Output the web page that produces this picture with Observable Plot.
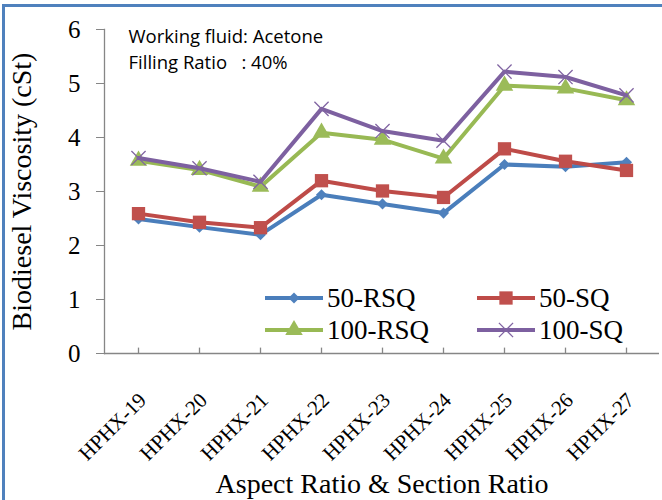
<!DOCTYPE html>
<html><head><meta charset="utf-8">
<script src="https://cdn.jsdelivr.net/npm/d3@7"></script>
<script src="https://cdn.jsdelivr.net/npm/@observablehq/plot@0.6"></script>
<style>
body{margin:0;background:#fff}
#wrap{position:relative;width:662px;height:500px;overflow:hidden;background:#fff}
.bl{position:absolute;background:#4F81BD}
.leg{position:absolute;display:flex;align-items:center;font-family:"Liberation Serif",serif;font-size:27px;line-height:1;white-space:nowrap;color:#000}
.leg svg{display:block;margin-right:4px}
#wrap > svg.main{position:absolute;left:0;top:0;white-space:pre}
#wrap > svg.main g.serif text{font-family:"Liberation Serif",serif}
#wrap > svg.main g.sans text{font-family:"Open Sans",sans-serif}
</style></head><body><div id="wrap"></div>
<script>
// ---- data ----
const categories = ["HPHX-19","HPHX-20","HPHX-21","HPHX-22","HPHX-23","HPHX-24","HPHX-25","HPHX-26","HPHX-27"];
const seriesNames = ["50-RSQ","50-SQ","100-RSQ","100-SQ"];
const rsq50  = [2.49, 2.34, 2.20, 2.94, 2.77, 2.60, 3.50, 3.46, 3.54];
const sq50   = [2.59, 2.43, 2.33, 3.20, 3.01, 2.89, 3.79, 3.56, 3.39];
const rsq100 = [3.57, 3.40, 3.09, 4.09, 3.96, 3.61, 4.96, 4.91, 4.69];
const sq100  = [3.62, 3.43, 3.18, 4.53, 4.12, 3.94, 5.22, 5.12, 4.78];
const yTicks = [0, 1, 2, 3, 4, 5, 6];
const annotation = ["Working fluid: Acetone", "Filling Ratio   : 40%"];
const xTitle = "Aspect Ratio & Section Ratio";
const yTitle = "Biodiesel Viscosity (cSt)";

// ---- styles ----
const lineColors = ["#4A7EBB", "#BE4B48", "#98B954", "#7D60A0"];
const markColors = ["#4F81BD", "#C0504D", "#9BBB59", "#8064A2"];
const symbols = ["diamond2", "square", "triangle", "times"];
const radii = [5, 7.5, 6.5, 6.5];

const seriesValues = [rsq50, sq50, rsq100, sq100];
const table = seriesValues.flatMap((vals, s) => vals.map((v, i) => ({series: seriesNames[s], cat: categories[i], value: v})));

const axisGray = "#868686";
const serif = "Liberation Serif";

const seriesMarks = seriesNames.flatMap((name, s) => {
  const d = table.filter(r => r.series === name);
  const dotOpts = symbols[s] === "times"
    ? {x: "cat", y: "value", symbol: "times", stroke: markColors[s], strokeWidth: 1.3, r: radii[s]}
    : {x: "cat", y: "value", symbol: symbols[s], fill: markColors[s], r: radii[s]};
  return [
    Plot.line(d, {x: "cat", y: "value", stroke: lineColors[s], strokeWidth: 4}),
    Plot.dot(d, dotOpts)
  ];
});

const chart = Plot.plot({
  width: 662,
  height: 500,
  marginLeft: 104,
  marginRight: 3,
  marginTop: 29,
  marginBottom: 147,
  style: {fontFamily: serif, background: "transparent", color: "#000"},
  x: {type: "point", domain: categories, padding: 0.5, axis: null},
  y: {domain: [0, 6], axis: null},
  marks: [
    Plot.ruleY([0], {stroke: axisGray, strokeWidth: 1.3}),
    Plot.frame({anchor: "left", stroke: axisGray, strokeWidth: 1.3}),
    Plot.ruleX(categories, {x: d => d, y1: 0, y2: 0.1, stroke: axisGray, strokeWidth: 1.3}),
    Plot.axisY(yTicks, {tickSize: 8, stroke: axisGray, label: null, tickFormat: () => ""}),
    Plot.text(yTicks, {y: d => d, text: d => String(d), frameAnchor: "left", textAnchor: "end", dx: -24, fontSize: 25, fontFamily: serif, className: "serif"}),
    Plot.text(categories, {x: d => d, frameAnchor: "bottom", rotate: -45, textAnchor: "end", dx: 9, dy: 48, fontSize: 21, fontFamily: serif, className: "serif"}),
    Plot.text([yTitle], {frameAnchor: "left", rotate: -90, textAnchor: "middle", dx: -82, fontSize: 28, fontFamily: serif, className: "serif"}),
    Plot.text([xTitle], {frameAnchor: "bottom", textAnchor: "middle", dy: 139, fontSize: 28, fontFamily: serif, className: "serif"}),
    Plot.text([annotation[0]], {frameAnchor: "top-left", dx: 24, dy: 0, textAnchor: "start", fontSize: 18.5, fontFamily: "Open Sans", className: "sans"}),
    Plot.text([annotation[1]], {frameAnchor: "top-left", dx: 24, dy: 26, textAnchor: "start", fontSize: 18.5, fontFamily: "Open Sans", className: "sans"}),
    ...seriesMarks
  ]
});
chart.classList.add("main");
const wrap = document.getElementById("wrap");
wrap.appendChild(chart);

// border lines (decoration)
const borderTop = document.createElement("div"); borderTop.className = "bl";
Object.assign(borderTop.style, {left: "2px", top: "4px", width: "660px", height: "3px"});
const borderLeft = document.createElement("div"); borderLeft.className = "bl";
Object.assign(borderLeft.style, {left: "2px", top: "4px", width: "3px", height: "496px"});
wrap.appendChild(borderTop); wrap.appendChild(borderLeft);

// legend
const legPos = [[265, 298], [477, 298], [265, 330], [477, 330]];
const symMap = {diamond2: d3.symbolDiamond2, square: d3.symbolSquare, triangle: d3.symbolTriangle, times: d3.symbolTimes};
seriesNames.forEach((name, s) => {
  const item = document.createElement("div");
  item.className = "leg";
  item.style.left = legPos[s][0] + "px";
  item.style.top = (legPos[s][1] - 16) + "px";
  item.style.height = "32px";
  const svg = d3.create("svg").attr("width", 58).attr("height", 32);
  svg.append("line").attr("x1", 0).attr("x2", 58).attr("y1", 16).attr("y2", 16)
    .attr("stroke", lineColors[s]).attr("stroke-width", 4);
  const p = svg.append("path").attr("transform", "translate(29,16)")
    .attr("d", d3.symbol(symMap[symbols[s]], Math.PI * radii[s] * radii[s])());
  if (symbols[s] === "times") p.attr("fill", "none").attr("stroke", markColors[s]).attr("stroke-width", 1.3);
  else p.attr("fill", markColors[s]);
  item.appendChild(svg.node());
  const span = document.createElement("span");
  span.textContent = name;
  item.appendChild(span);
  wrap.appendChild(item);
});
</script>
</body></html>
